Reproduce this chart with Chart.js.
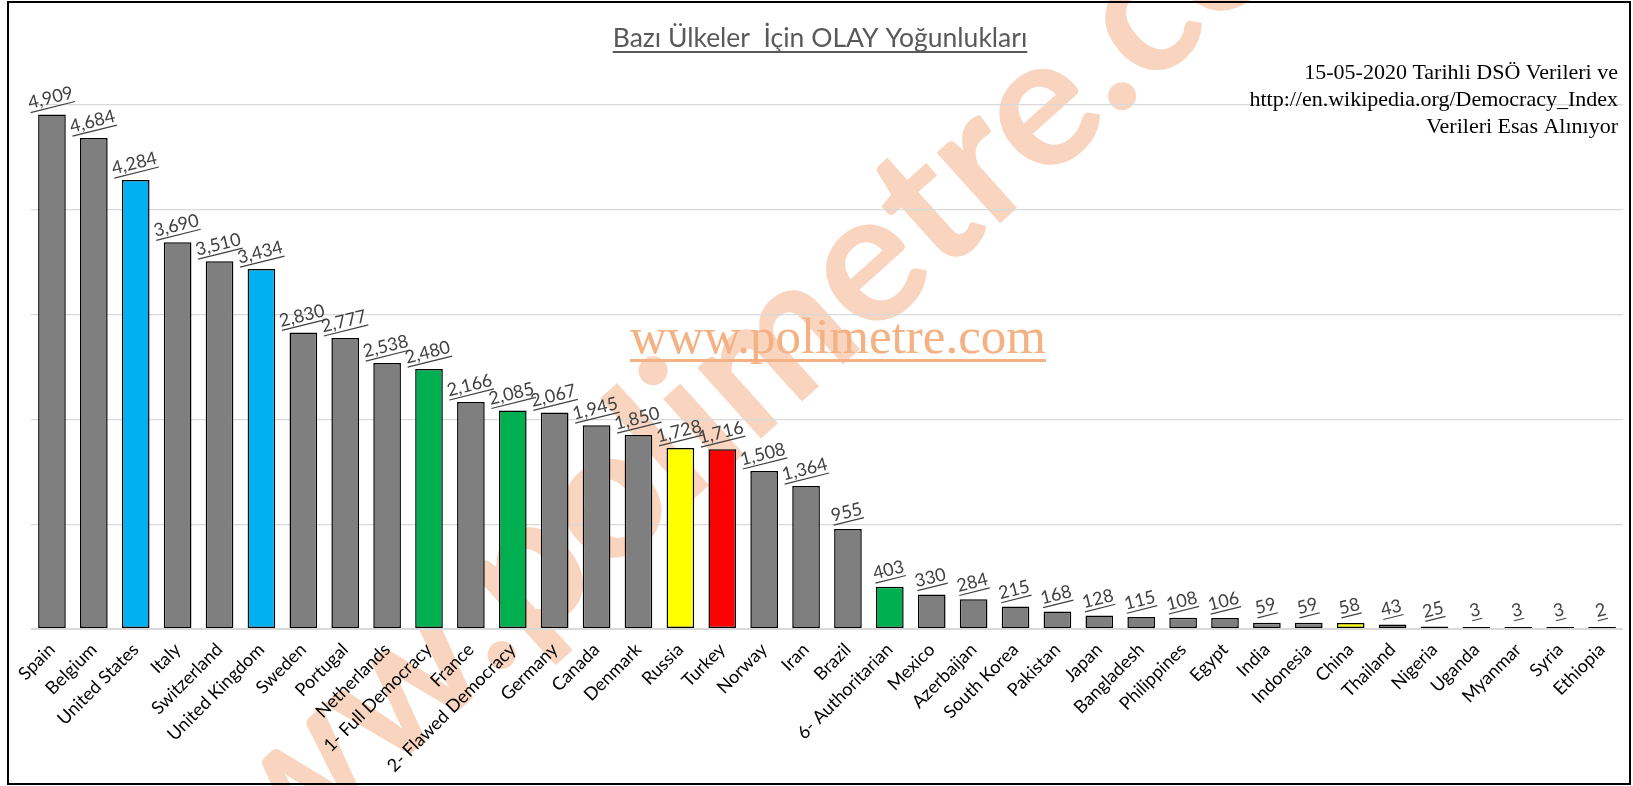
<!DOCTYPE html>
<html><head><meta charset="utf-8">
<script src="https://cdn.jsdelivr.net/npm/chart.js@4.4.1/dist/chart.umd.min.js"></script>
<style>html,body{margin:0;padding:0;background:#fff;overflow:hidden}</style>
</head><body>
<canvas id="c" width="1633" height="786"></canvas>
<script>
const categories = ['Spain','Belgium','United States','Italy','Switzerland','United Kingdom','Sweden','Portugal','Netherlands','1- Full Democracy','France','2- Flawed Democracy','Germany','Canada','Denmark','Russia','Turkey','Norway','Iran','Brazil','6- Authoritarian','Mexico','Azerbaijan','South Korea','Pakistan','Japan','Bangladesh','Philippines','Egypt','India','Indonesia','China','Thailand','Nigeria','Uganda','Myanmar','Syria','Ethiopia'];
const values = [4909,4684,4284,3690,3510,3434,2830,2777,2538,2480,2166,2085,2067,1945,1850,1728,1716,1508,1364,955,403,330,284,215,168,128,115,108,106,59,59,58,43,25,3,3,3,2];
const colorKeys = ['gray','gray','blue','gray','gray','blue','gray','gray','gray','green','gray','green','gray','gray','gray','yellow','red','gray','gray','gray','green','gray','gray','gray','gray','gray','gray','gray','gray','gray','gray','yellow','gray','gray','gray','gray','gray','gray'];
const palette = {gray:'#7F7F7F', blue:'#00B0F0', green:'#00B050', yellow:'#FFFF00', red:'#FF0000'};
const yMin = 0, yMax = 5000, yStep = 1000;
const titleText = 'Bazı Ülkeler  İçin OLAY Yoğunlukları';
const noteLines = ['15-05-2020 Tarihli DSÖ Verileri ve','http://en.wikipedia.org/Democracy_Index','Verileri Esas Alınıyor'];
const watermarkText = 'www.polimetre.com';

const fmt = v => v.toLocaleString('en-US');

function underlineText(ctx, text, x, y, align, offset, lw) {
  const w = ctx.measureText(text).width;
  let x0 = align === 'center' ? x - w/2 : (align === 'right' ? x - w : x);
  ctx.fillText(text, x, y);
  ctx.fillRect(x0, y + offset, w, lw);
}

const decor = {
  id: 'decor',
  beforeDraw(chart) {
    const ctx = chart.ctx;
    ctx.save();
    ctx.fillStyle = '#fff';
    ctx.fillRect(0, 0, chart.width, chart.height);
    const size = 185, ang = -42 * Math.PI / 180;
    ctx.font = 'bold ' + size + 'px Lato';
    const pre = ctx.measureText('www.polimetre').width + ctx.measureText('.').width / 2;
    const ax = 1122, ay = 96, up = 0.07 * size;
    const c = Math.cos(ang), s = Math.sin(ang);
    const sx = ax - pre * c - up * s;
    const sy = ay - pre * s + up * c;
    ctx.translate(sx, sy);
    ctx.rotate(ang);
    ctx.fillStyle = '#F9D5BF';
    ctx.textBaseline = 'alphabetic';
    ctx.fillText(watermarkText, 0, 0);
    ctx.restore();
  },
  afterDatasetsDraw(chart) {
    const ctx = chart.ctx;
    const meta = chart.getDatasetMeta(0);
    ctx.save();
    ctx.font = '18px Lato';
    ctx.fillStyle = '#404040';
    ctx.textAlign = 'center';
    ctx.textBaseline = 'alphabetic';
    meta.data.forEach((bar, i) => {
      const t = fmt(values[i]);
      ctx.save();
      ctx.translate(bar.x, bar.y - 11);
      ctx.rotate(-14 * Math.PI / 180);
      const w = ctx.measureText(t).width;
      ctx.fillText(t, 0, 0);
      ctx.fillRect(-w/2, 3, w, 1.2);
      ctx.restore();
    });
    ctx.restore();
  },
  afterDraw(chart) {
    const ctx = chart.ctx;
    ctx.save();
    ctx.font = '26.5px Lato';
    ctx.fillStyle = '#595959';
    ctx.textAlign = 'center';
    ctx.textBaseline = 'alphabetic';
    underlineText(ctx, titleText, 820, 47, 'center', 4, 2);
    ctx.font = '22px "Liberation Serif"';
    ctx.fillStyle = '#000';
    ctx.textAlign = 'right';
    ctx.fillText(noteLines[0], 1618, 79);
    ctx.fillText(noteLines[1], 1618, 106);
    ctx.fillText(noteLines[2], 1618, 133);
    ctx.font = '51px "Liberation Serif"';
    ctx.fillStyle = '#F4B183';
    ctx.textAlign = 'center';
    underlineText(ctx, watermarkText, 838, 353, 'center', 6, 3);
    ctx.strokeStyle = '#000';
    ctx.lineWidth = 2;
    ctx.strokeRect(8, 2, 1622, 782);
    ctx.restore();
  }
};

new Chart(document.getElementById('c'), {
  type: 'bar',
  data: {
    labels: categories,
    datasets: [{
      data: values,
      backgroundColor: colorKeys.map(k => palette[k]),
      borderColor: '#000',
      borderWidth: 1.5,
      borderSkipped: false,
      minBarLength: 2,
      barPercentage: 0.66,
      categoryPercentage: 1
    }]
  },
  options: {
    responsive: false,
    animation: false,
    events: [],
    layout: { padding: { top: 105, left: 31, right: 10, bottom: 0 } },
    plugins: { legend: { display: false }, tooltip: { enabled: false }, title: { display: false } },
    scales: {
      x: {
        grid: { display: false },
        border: { display: false },
        ticks: {
          autoSkip: false, maxRotation: 45, minRotation: 45, padding: 2,
          color: '#000', font: { family: 'Lato', size: 18 }
        },
        afterFit(scale) { scale.height = 157; }
      },
      y: {
        min: yMin, max: yMax,
        ticks: { display: false, stepSize: yStep },
        border: { display: false },
        grid: {
          color: '#D9D9D9', drawTicks: false,
          lineWidth: ctx => (ctx.tick && ctx.tick.value === 0 ? 2 : 1.3)
        },
        afterFit(scale) { scale.width = 0; }
      }
    }
  },
  plugins: [decor]
});
</script>
</body></html>
